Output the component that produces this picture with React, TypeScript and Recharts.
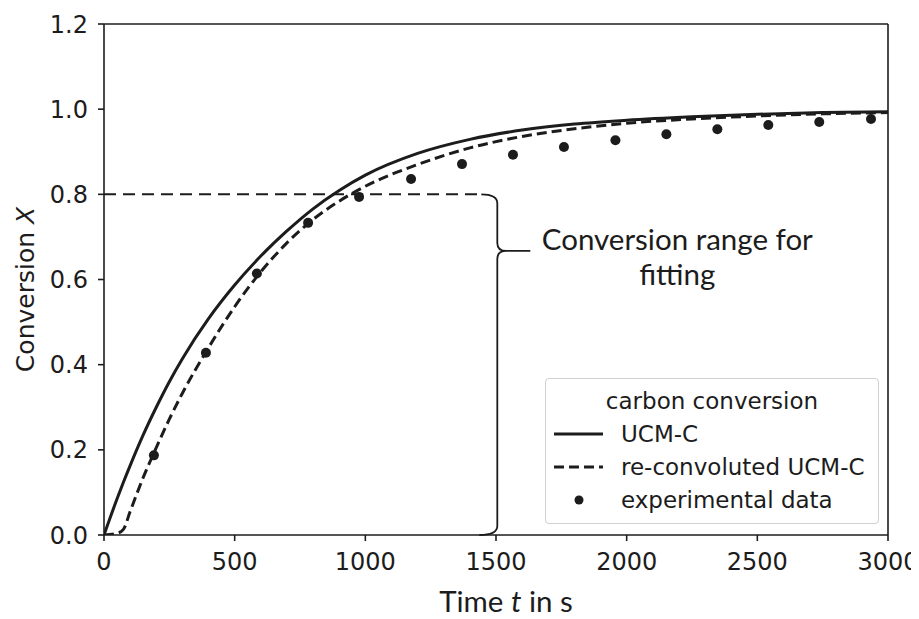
import { ComposedChart, Legend, Line, ReferenceLine, XAxis, YAxis } from "recharts";

// model curves
const TIME = [0, 50, 75, 100, 150, 200, 250, 300, 400, 500, 600, 700, 800, 900, 1000, 1200, 1400, 1600, 1800, 2000, 2250, 2500, 2750, 3000];
const UCM_C = [0, 0.085, 0.125, 0.163, 0.235, 0.3, 0.36, 0.414, 0.508, 0.587, 0.655, 0.714, 0.766, 0.809, 0.845, 0.896, 0.929, 0.951, 0.965, 0.974, 0.982, 0.988, 0.992, 0.994];
const RECONV_UCM_C = [0, 0.004, 0.014, 0.055, 0.135, 0.205, 0.272, 0.333, 0.44, 0.536, 0.618, 0.686, 0.741, 0.784, 0.819, 0.87, 0.909, 0.936, 0.954, 0.967, 0.977, 0.984, 0.989, 0.992];

// experimental points
const EXP_T = [191, 390, 585, 781, 976, 1175, 1370, 1565, 1760, 1957, 2152, 2347, 2542, 2737, 2935];
const EXP_X = [0.187, 0.428, 0.614, 0.733, 0.794, 0.836, 0.871, 0.893, 0.911, 0.927, 0.941, 0.953, 0.963, 0.97, 0.977];

const X_TICKS = [0, 500, 1000, 1500, 2000, 2500, 3000];
const Y_TICKS = [0, 0.2, 0.4, 0.6, 0.8, 1.0, 1.2];

// fitting range annotation
const FIT_RANGE = [0, 0.8];
const FIT_LINE_END = 1440;
const BRACE_T = 1505;
const BRACE_CUSP = 0.667;

const curveData = TIME.map((t, i) => ({ t, ucm: UCM_C[i], reconv: RECONV_UCM_C[i] }));
const expData = EXP_T.map((t, i) => ({ t, x: EXP_X[i] }));

const INK = "#1c1c1c";
const MPL_FONT = "'DejaVu Sans', sans-serif";
const NOTE_FONT = "Lato, 'Open Sans', sans-serif";

function Brace(props: any) {
  const { x1, y1, y2 } = props;
  const top = Math.min(y1, y2);
  const bot = Math.max(y1, y2);
  const frac = (FIT_RANGE[1] - BRACE_CUSP) / (FIT_RANGE[1] - FIT_RANGE[0]);
  const cy = top + (bot - top) * frac;
  const x = x1;
  const d = [
    `M ${x - 16} ${top} Q ${x} ${top} ${x} ${top + 9}`,
    `L ${x} ${cy - 8} Q ${x} ${cy} ${x + 9} ${cy}`,
    `M ${x + 9} ${cy} Q ${x} ${cy} ${x} ${cy + 8}`,
    `L ${x} ${bot - 9} Q ${x} ${bot} ${x - 18} ${bot}`,
    `M ${x + 9} ${cy} L ${x + 33} ${cy}`,
  ].join(" ");
  const tx = x + 180;
  return (
    <g>
      <path d={d} fill="none" stroke={INK} strokeWidth={1.8} />
      <text x={tx} y={cy - 1} textAnchor="middle" fontSize={29.5} fontFamily={NOTE_FONT} fill={INK}>
        Conversion range for
      </text>
      <text x={tx} y={cy + 34} textAnchor="middle" fontSize={29.5} fontFamily={NOTE_FONT} fill={INK}>
        fitting
      </text>
    </g>
  );
}

function XLabel(props: any) {
  const vb = props.viewBox || { x: 96, y: 527, width: 784, height: 84 };
  return (
    <text x={vb.x + vb.width / 2 + 10} y={vb.y + 77} textAnchor="middle" fontSize={29.5} fontFamily={NOTE_FONT} fill={INK}>
      Time <tspan fontStyle="italic">t</tspan> in s
    </text>
  );
}

function YLabel(props: any) {
  const vb = props.viewBox || { x: 0, y: 16, width: 96, height: 511 };
  const x = vb.x + 26;
  const y = vb.y + vb.height / 2 + 10;
  return (
    <text x={x} y={y} transform={`rotate(-90 ${x} ${y})`} textAnchor="middle" fontSize={25} fontFamily={MPL_FONT} fill={INK}>
      Conversion <tspan fontStyle="italic">X</tspan>
    </text>
  );
}

const LEGEND_ITEMS = [
  { name: "UCM-C", kind: "solid" },
  { name: "re-convoluted UCM-C", kind: "dashed" },
  { name: "experimental data", kind: "dot" },
];

function LegendBox() {
  const row = { height: 33, display: "flex", alignItems: "center" } as const;
  return (
    <div
      style={{
        boxSizing: "border-box",
        width: 334,
        height: 146,
        border: "1.5px solid #d0d0d0",
        borderRadius: 4,
        background: "rgba(255,255,255,0.85)",
        padding: "5px 0",
        fontFamily: MPL_FONT,
        fontSize: 23,
        color: INK,
      }}
    >
      <div style={{ ...row, justifyContent: "center" }}>carbon conversion</div>
      {LEGEND_ITEMS.map((it) => (
        <div key={it.name} style={row}>
          <svg width={75} height={20} style={{ flex: "none" }}>
            {it.kind === "dot" ? (
              <circle cx={33} cy={10} r={4.5} fill={INK} />
            ) : (
              <line x1={8} x2={57} y1={10} y2={10} stroke={INK} strokeWidth={2.8} strokeDasharray={it.kind === "dashed" ? "10 5" : undefined} />
            )}
          </svg>
          <span>{it.name}</span>
        </div>
      ))}
    </div>
  );
}

export default function App() {
  return (
    <div style={{ width: 911, height: 611 }}>
      <ComposedChart width={911} height={611} margin={{ top: 16, right: 31, bottom: 0, left: 0 }}>
        <XAxis
          dataKey="t"
          type="number"
          domain={[0, 3000]}
          ticks={X_TICKS}
          allowDataOverflow
          height={84}
          stroke={INK}
          strokeWidth={1.6}
          tickSize={6}
          tickMargin={12}
          tick={{ fontSize: 24, fontFamily: MPL_FONT, fill: INK }}
          label={<XLabel />}
        />
        <YAxis
          type="number"
          domain={[0, 1.2]}
          ticks={Y_TICKS}
          allowDataOverflow
          width={96}
          stroke={INK}
          strokeWidth={1.6}
          tickSize={6}
          tickMargin={10}
          tickFormatter={(v: number) => v.toFixed(1)}
          tick={{ fontSize: 24, fontFamily: MPL_FONT, fill: INK }}
          label={<YLabel />}
        />
        <ReferenceLine y={1.2} stroke={INK} strokeWidth={1.6} />
        <ReferenceLine x={3000} stroke={INK} strokeWidth={1.6} />
        <ReferenceLine
          segment={[{ x: 0, y: FIT_RANGE[1] }, { x: FIT_LINE_END, y: FIT_RANGE[1] }]}
          stroke={INK}
          strokeWidth={2}
          strokeDasharray="12 7"
        />
        <ReferenceLine
          segment={[{ x: BRACE_T, y: FIT_RANGE[1] }, { x: BRACE_T, y: FIT_RANGE[0] }]}
          shape={Brace}
        />
        <Line data={curveData} dataKey="ucm" type="monotone" stroke={INK} strokeWidth={3} dot={false} isAnimationActive={false} />
        <Line data={curveData} dataKey="reconv" type="monotone" stroke={INK} strokeWidth={3} strokeDasharray="10 5" dot={false} isAnimationActive={false} />
        <Line
          data={expData}
          dataKey="x"
          stroke="none"
          strokeWidth={0}
          dot={{ r: 5, fill: INK, stroke: "none" }}
          isAnimationActive={false}
        />
        <Legend
          layout="vertical"
          align="center"
          verticalAlign="middle"
          content={<LegendBox />}
          wrapperStyle={{ left: 537, top: 370, width: 334, height: 146 }}
        />
      </ComposedChart>
    </div>
  );
}
